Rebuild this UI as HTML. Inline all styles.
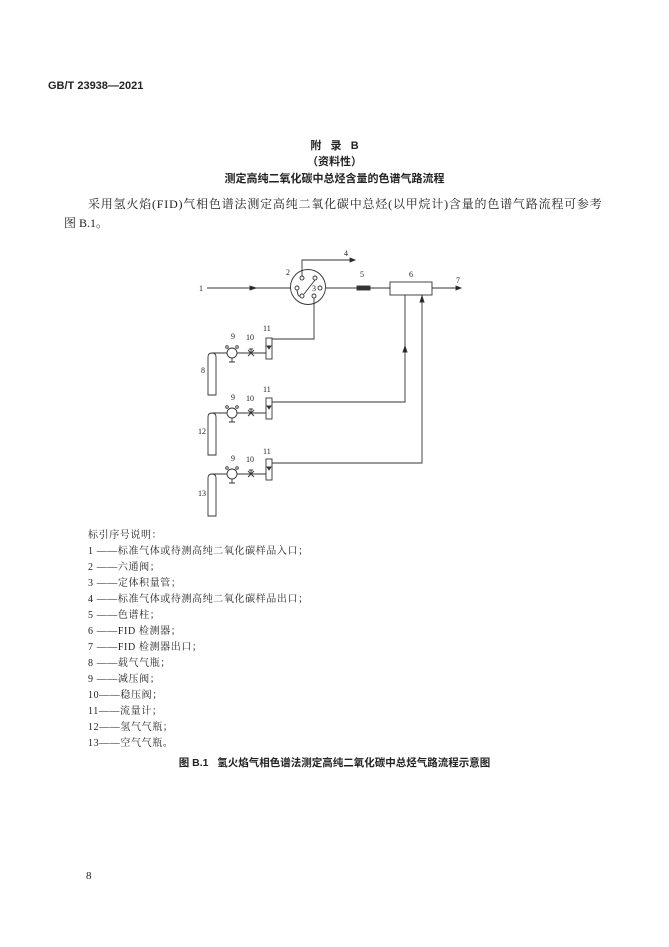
<!DOCTYPE html>
<html><head><meta charset="utf-8"><style>
body{margin:0;background:#fff;}
.pg{position:relative;width:669px;height:947px;overflow:hidden;font-family:"Liberation Serif","Noto Serif CJK SC",serif;color:#222;}
.t{position:absolute;white-space:nowrap;}
.b{font-family:"Liberation Sans","Noto Sans CJK SC",sans-serif;font-weight:bold;}
.lg{position:absolute;left:88px;font-size:10px;letter-spacing:0.6px;white-space:nowrap;}
</style></head><body><div class="pg">
<div class="t b" style="left:48px;top:80px;font-size:11px;">GB/T 23938—2021</div>
<div class="t b" style="left:0;width:669px;text-align:center;top:137px;font-size:11px;">附&nbsp;&nbsp;&nbsp;录&nbsp;&nbsp;&nbsp;B</div>
<div class="t b" style="left:0;width:669px;text-align:center;top:153px;font-size:11px;">（资料性）</div>
<div class="t b" style="left:0;width:669px;text-align:center;top:170px;font-size:11px;">测定高纯二氧化碳中总烃含量的色谱气路流程</div>
<div class="t" style="left:88px;top:195px;font-size:12px;letter-spacing:0.8px;">采用氢火焰(FID)气相色谱法测定高纯二氧化碳中总烃(以甲烷计)含量的色谱气路流程可参考</div>
<div class="t" style="left:64px;top:214px;font-size:12px;">图 B.1。</div>
<svg style="position:absolute;left:0;top:0" width="669" height="947" font-family="Liberation Serif" font-size="8" fill="none" stroke="#333" stroke-width="0.9">
<g fill="#222" stroke="none">
<text x="199" y="291">1</text><text x="286" y="275">2</text><text x="312" y="291">3</text>
<text x="344" y="256">4</text><text x="360" y="277">5</text><text x="409" y="277">6</text><text x="456" y="283">7</text>
<text x="201" y="373">8</text><text x="231" y="339">9</text><text x="246" y="340">10</text><text x="263" y="331">11</text>
<text x="231" y="400">9</text><text x="246" y="401">10</text><text x="263" y="392">11</text><text x="198" y="434">12</text>
<text x="231" y="461">9</text><text x="246" y="462">10</text><text x="263" y="454">11</text><text x="198" y="496">13</text>
</g>
<path d="M207 288H291M326 288H357M370 288H390M432 288H457"/>
<path d="M250 286L256 288L250 290Z M456 286L461 288L456 290Z M350 258L355 260L350 262Z" fill="#222"/>
<rect x="357" y="286" width="13" height="4" fill="#333"/>
<rect x="390" y="282" width="42" height="13"/>
<circle cx="308" cy="287" r="17.5"/>
<g fill="#fff"><circle cx="302" cy="278" r="2"/><circle cx="315" cy="278" r="2"/><circle cx="297" cy="288" r="2"/><circle cx="320" cy="288" r="2"/><circle cx="302" cy="296" r="2"/><circle cx="314" cy="296" r="2"/></g>
<path d="M315 280L304 294M297 290Q298 297 300 296M302 276V260H352M314 298V339H272"/>
<path d="M272 402H405V295M272 463H422V295"/>
<path d="M403 352L405 346L407 352Z M420 302L422 296L424 302Z" fill="#222"/>
<g id="r">
<path d="M212 353H266"/>
<rect x="266" y="338" width="6" height="21" fill="#fff"/>
<path d="M267 346L271 346L269 349Z" fill="#333"/>
<circle cx="232" cy="353" r="5" fill="#fff"/>
<circle cx="227" cy="347" r="1.3"/><circle cx="237" cy="347" r="1.3"/><path d="M232 358V362M229 362H235"/>
<path d="M248 350L254 356M248 356L254 350M251 353V349M249 349H253"/>
<path d="M208 357Q208 353 212 353Q216 353 216 357V395H208Z" fill="#fff"/>
</g>
<use href="#r" y="60"/>
<use href="#r" y="121"/>
</svg>
<div class="lg" style="top:526px;">标引序号说明：</div>
<div class="lg" style="top:542px;">1 ——标准气体或待测高纯二氧化碳样品入口；</div>
<div class="lg" style="top:558px;">2 ——六通阀；</div>
<div class="lg" style="top:574px;">3 ——定体积量管；</div>
<div class="lg" style="top:590px;">4 ——标准气体或待测高纯二氧化碳样品出口；</div>
<div class="lg" style="top:606px;">5 ——色谱柱；</div>
<div class="lg" style="top:622px;">6 ——FID 检测器；</div>
<div class="lg" style="top:638px;">7 ——FID 检测器出口；</div>
<div class="lg" style="top:654px;">8 ——载气气瓶；</div>
<div class="lg" style="top:670px;">9 ——减压阀；</div>
<div class="lg" style="top:686px;">10——稳压阀；</div>
<div class="lg" style="top:702px;">11——流量计；</div>
<div class="lg" style="top:718px;">12——氢气气瓶；</div>
<div class="lg" style="top:734px;">13——空气气瓶。</div>
<div class="t b" style="left:0;width:669px;text-align:center;top:755px;font-size:10.5px;">图 B.1&nbsp;&nbsp;&nbsp;氢火焰气相色谱法测定高纯二氧化碳中总烃气路流程示意图</div>
<div class="t" style="left:86px;top:870px;font-size:11px;">8</div>
</div></body></html>
